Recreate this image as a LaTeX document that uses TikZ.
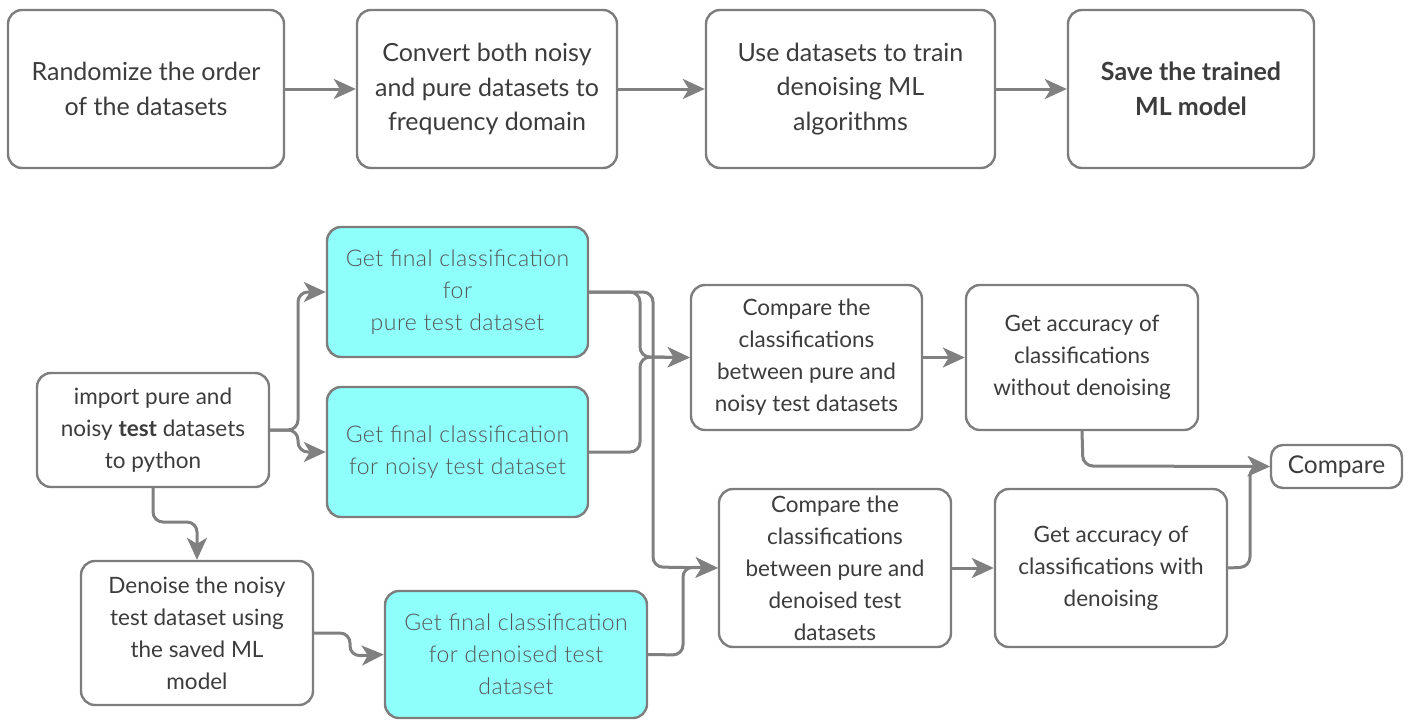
\documentclass[tikz,border=0pt]{standalone}
\usepackage{fontspec}
\setmainfont{Lato}
\newfontfamily\lightfont[LetterSpace=2]{Lato Light}
\usetikzlibrary{arrows.meta}
\definecolor{linegray}{RGB}{128,128,128}
\definecolor{boxgray}{RGB}{125,125,125}
\definecolor{txt}{RGB}{60,60,60}
\definecolor{cyanfill}{RGB}{143,255,252}
\definecolor{cyantxt}{RGB}{85,85,85}
\tikzset{
  box/.style={draw=boxgray, line width=2.4pt, rounded corners=14pt, fill=white,
    align=center, inner sep=0pt, text=txt, font=\fontsize{22.5}{32}\selectfont},
  topbox/.style={box, font=\fontsize{25}{34.5}\selectfont},
  cyanbox/.style={box, fill=cyanfill, text=cyantxt, font=\lightfont\fontsize{23}{32}\selectfont},
  conn/.style={draw=linegray, line width=3pt, rounded corners=10pt,
    -{Stealth[length=22pt,width=20pt,inset=6pt]}},
}
\begin{document}
\begin{tikzpicture}[x=1pt,y=-1pt]
\useasboundingbox (0,0) rectangle (1413,720);
% top row
\node[topbox, minimum width=276pt, minimum height=158pt] (b1) at (146,89) {Randomize the order\\of the datasets};
\node[topbox, minimum width=260pt, minimum height=158pt] (b2) at (487,89) {Convert both noisy\\and pure datasets to\\frequency domain};
\node[topbox, minimum width=289pt, minimum height=158pt] (b3) at (850.5,89) {Use datasets to train\\denoising ML\\algorithms};
\node[topbox, minimum width=246pt, minimum height=158pt, font=\bfseries\fontsize{25}{34.5}\selectfont] (b4) at (1191,89) {Save the trained\\ML model};
\draw[conn] (b1.east) -- (b2.west);
\draw[conn] (b2.east) -- (b3.west);
\draw[conn] (b3.east) -- (b4.west);
% bottom
\node[box, minimum width=232pt, minimum height=114pt] (imp) at (153,430) {import pure and\\noisy \textbf{test} datasets\\to python};
\node[cyanbox, minimum width=261pt, minimum height=130pt] (pure) at (457.5,292) {Get final classification\\for\\pure test dataset};
\node[cyanbox, minimum width=261pt, minimum height=130pt] (noisy) at (457.5,452) {Get final classification\\for noisy test dataset};
\node[box, minimum width=231pt, minimum height=145pt] (cmp1) at (806.5,357.5) {Compare the\\classifications\\between pure and\\noisy test datasets};
\node[box, minimum width=232pt, minimum height=145pt] (acc1) at (1082,357.5) {Get accuracy of\\classifications\\without denoising};
\node[box, minimum width=131pt, minimum height=43pt, rounded corners=12pt, font=\fontsize{24.5}{30}\selectfont] (cmpf) at (1336.5,466.5) {Compare};
\node[box, minimum width=232pt, minimum height=144pt] (den) at (197,633) {Denoise the noisy\\test dataset using\\the saved ML\\model};
\node[cyanbox, minimum width=262pt, minimum height=127pt] (dnd) at (516,654.5) {Get final classification\\for denoised test\\dataset};
\node[box, minimum width=232pt, minimum height=158pt] (cmp2) at (835,568) {Compare the\\classifications\\between pure and\\denoised test\\datasets};
\node[box, minimum width=232pt, minimum height=158pt] (acc2) at (1111,568) {Get accuracy of\\classifications with\\denoising};
% connectors
\draw[conn] (imp.east) -- (298,430) -- (298,292) -- (pure.west);
\draw[conn] (imp.east) -- (298,430) -- (298,452) -- (noisy.west);
\draw[conn] (imp.south) -- (153,522) -- (197,522) -- (den.north);
\draw[conn] (pure.east) -- (640,292) -- (640,357) -- (cmp1.west);
\draw[conn] (noisy.east) -- (640,452) -- (640,357) -- (cmp1.west);
\draw[conn] (pure.east) -- (653,292) -- (653,567) -- (cmp2.west);
\draw[conn] (den.east) -- (350,633) -- (350,656) -- (dnd.west);
\draw[conn] (dnd.east) -- (683,655) -- (683,567) -- (cmp2.west);
\draw[conn] (cmp1.east) -- (acc1.west);
\draw[conn] (cmp2.east) -- (acc2.west);
\draw[conn] (acc1.south) -- (1083,466) -- (cmpf.west);
\draw[conn] (acc2.east) -- (1250,567) -- (1250,466) -- (cmpf.west);
\end{tikzpicture}
\end{document}
